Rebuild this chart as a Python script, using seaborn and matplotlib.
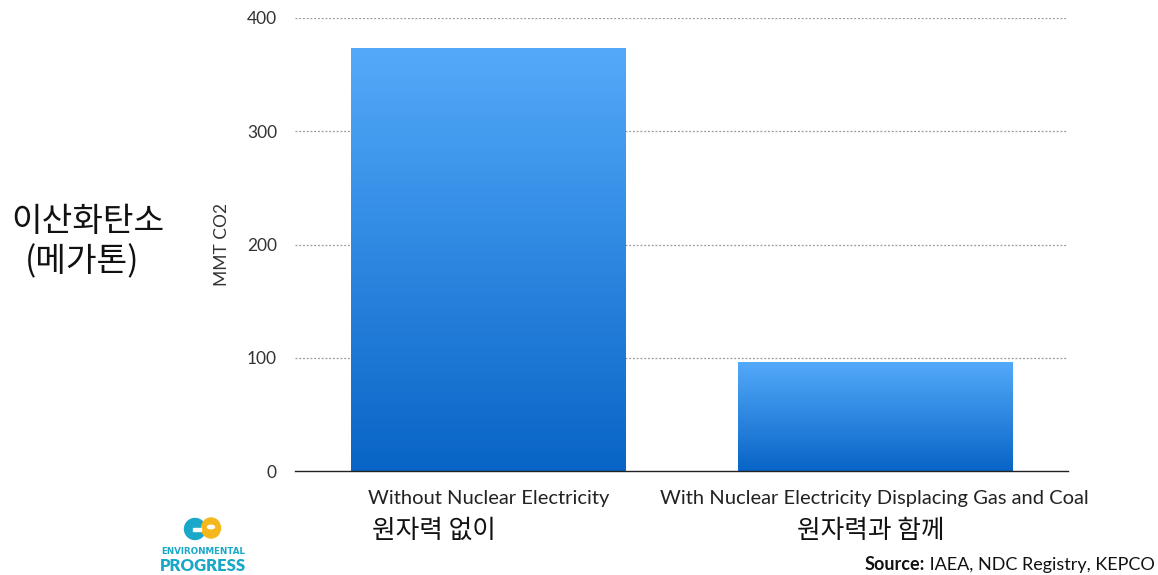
import numpy as np
import pandas as pd
import matplotlib
matplotlib.use("Agg")
import matplotlib.pyplot as plt
import seaborn as sns
from matplotlib.colors import LinearSegmentedColormap
from matplotlib.patches import Ellipse, Rectangle, Circle

categories_en = ["Without Nuclear Electricity", "With Nuclear Electricity Displacing Gas and Coal"]
categories_ko = ["원자력 없이", "원자력과 함께"]
values = [373.5, 96.5]
yticks = [0, 100, 200, 300, 400]

sns.set_theme(style="white")
plt.rcParams['font.family'] = ['Lato', 'Noto Sans CJK KR', 'DejaVu Sans']
KO = ['Noto Sans CJK KR', 'DejaVu Sans']

df = pd.DataFrame({"cat": categories_en, "val": values})

fig = plt.figure(figsize=(11.58, 5.75), dpi=100)
ax = fig.add_axes([295/1158, 1 - 471/575, (1068-295)/1158, (471-18)/575])

sns.barplot(data=df, x="cat", y="val", ax=ax, width=0.71, color="#2a88e0", saturation=1)

cmap = LinearSegmentedColormap.from_list("g", ["#0864c6", "#54aafa"])
grad = np.linspace(0, 1, 256).reshape(-1, 1)
for p in ax.patches:
    x0, y0 = p.get_x(), p.get_y()
    w, h = p.get_width(), p.get_height()
    im = ax.imshow(grad, cmap=cmap, origin="lower", aspect="auto",
                   extent=[x0, x0 + w, y0, y0 + h], zorder=3)
    im.set_clip_path(p)
    p.set_facecolor("none")
    p.set_edgecolor("none")

ax.set_xlim(-0.5, 1.5)
ax.set_ylim(0, 400)
ax.set_yticks(yticks)
ax.set_yticklabels([str(v) for v in yticks], fontsize=12.5, color="#333333")
ax.tick_params(axis="y", length=0, pad=13)
ax.tick_params(axis="x", length=0, pad=14)
ax.set_xticks([0, 1])
ax.set_xticklabels(categories_en, fontsize=14.5, color="#222222")

ko_x = [-0.14, 0.99]
for xx, s in zip(ko_x, categories_ko):
    ax.text(xx, -0.103, s, transform=ax.get_xaxis_transform(), ha="center", va="top",
            fontsize=18.5, color="#111111", family=KO, fontweight="light")

for y in yticks[1:]:
    ax.axhline(y, color="#999999", lw=0.9, ls=(0, (1.5, 1.5)), zorder=1)
ax.set_xlabel("")
ax.set_ylabel("MMT CO2", fontsize=12.5, color="#333333", labelpad=12)

for s in ["top", "right", "left"]:
    ax.spines[s].set_visible(False)
ax.spines["bottom"].set_color("#222222")
ax.spines["bottom"].set_linewidth(1.0)
ax.spines["bottom"].set_zorder(5)

fig.text(88/1158, 1 - 222/575, "이산화탄소", fontsize=24, ha="center", va="center",
         family=KO, color="#111111", fontweight="light")
fig.text(82/1158, 1 - 262/575, "(메가톤)", fontsize=24, ha="center", va="center",
         family=KO, color="#111111", fontweight="light")

# Source
t2 = fig.text(1155/1158, 1 - 565/575, " IAEA, NDC Registry, KEPCO", fontsize=13, ha="right", va="center", color="#111111")
fig.canvas.draw()
bb = t2.get_window_extent(renderer=fig.canvas.get_renderer())
fig.text(bb.x0 / fig.bbox.width, 1 - 565/575, "Source:", fontsize=13, ha="right", va="center",
         color="#111111", fontweight="bold")

# Logo
teal = "#1aa8c9"
yellow = "#f4b81c"
W, H = 1158, 575
def fx(x): return x / W
def fy(y): return 1 - y / H
fig.patches.append(Ellipse((fx(195), fy(529)), 21/W, 21/H, transform=fig.transFigure, color=teal, zorder=1))
fig.patches.append(Ellipse((fx(211), fy(528)), 19/W, 20/H, transform=fig.transFigure, color=yellow, zorder=1))
fig.patches.append(Rectangle((fx(193), fy(531)), 8/W, 3/H, transform=fig.transFigure, color="white", zorder=2))
fig.patches.append(Circle((fx(211), fy(527)), 3.5/W, transform=fig.transFigure, color="white", zorder=2))
fig.text(fx(203), fy(552), "ENVIRONMENTAL", fontsize=6.3, ha="center", va="center", color=teal, fontweight="bold", family="DejaVu Sans")
fig.text(fx(203), fy(566), "PROGRESS", fontsize=12, ha="center", va="center", color=teal, fontweight="heavy")

fig.savefig("out.png", dpi=100)
